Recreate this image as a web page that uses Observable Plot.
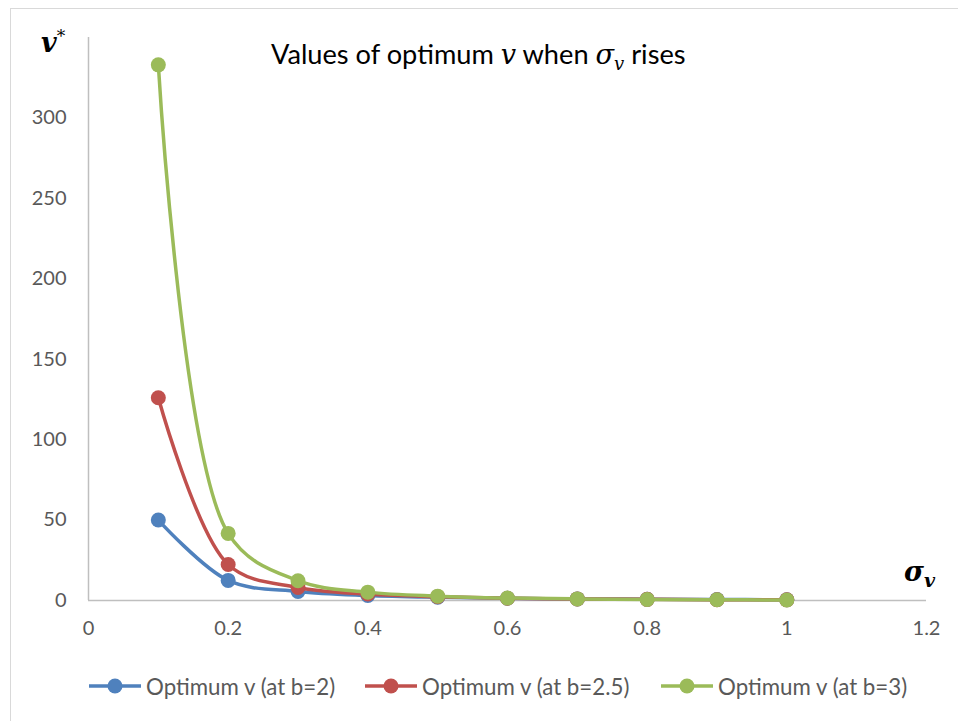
<!DOCTYPE html>
<html>
<head>
<meta charset="utf-8">
<script src="https://cdn.jsdelivr.net/npm/d3@7"></script>
<script src="https://cdn.jsdelivr.net/npm/@observablehq/plot@0.6"></script>
<style>
  html, body { margin: 0; padding: 0; background: #fff; }
  #wrap { position: relative; width: 958px; height: 721px; overflow: hidden; background: #fff; font-family: Lato, "Open Sans", sans-serif; }
  #frame { position: absolute; left: 10px; top: 8px; width: 1000px; height: 800px; border: 1.5px solid #d9d9d9; box-sizing: border-box; }
  #chart { position: absolute; left: 0; top: 0; }
  .ov { position: absolute; white-space: nowrap; }
  #title { left: 271px; top: 37px; font-size: 27.2px; color: #000; }
  .m { font-family: "DejaVu Serif", serif; font-style: italic; }
  #ylab { left: 41px; top: 26px; font-size: 27px; font-family: "DejaVu Serif", serif; font-weight: bold; font-style: italic; }
  #xlab { left: 904px; top: 556px; font-size: 27px; font-family: "DejaVu Serif", serif; font-weight: bold; font-style: italic; }
  #legend .item { position: absolute; top: 672px; height: 28px; display: flex; align-items: center; font-size: 22.3px; color: #595959; }
  #legend svg { margin-right: 4px; }
</style>
</head>
<body>
<div id="wrap">
  <div id="frame"></div>
  <div id="chart"></div>
  <div id="title" class="ov">Values of optimum <span class="m">v</span> when <span class="m">σ<sub style="font-size:18px">v</sub></span> rises</div>
  <div id="ylab" class="ov">v<sup style="font-size:17px;font-weight:normal">*</sup></div>
  <div id="xlab" class="ov">σ<sub style="font-size:19px">v</sub></div>
  <div id="legend"></div>
</div>
<script>
const sigma = [0.1, 0.2, 0.3, 0.4, 0.5, 0.6, 0.7, 0.8, 0.9, 1.0];
const optB2 = [50, 12.5, 5.6, 3.1, 2.0, 1.4, 1.0, 0.8, 0.6, 0.5];
const optB25 = [126, 22.4, 8.1, 4.0, 2.3, 1.4, 1.0, 0.7, 0.5, 0.4];
const optB3 = [333, 41.7, 12.3, 5.2, 2.7, 1.5, 1.0, 0.65, 0.46, 0.33];
const seriesNames = ["Optimum v (at b=2)", "Optimum v (at b=2.5)", "Optimum v (at b=3)"];
const seriesColors = ["#4F81BD", "#C0504D", "#9BBB59"];
const xTicks = [0, 0.2, 0.4, 0.6, 0.8, 1, 1.2];
const yTicks = [0, 50, 100, 150, 200, 250, 300];

const seriesValues = [optB2, optB25, optB3];
const marks = [
  Plot.ruleY([0], {stroke: "#bfbfbf", strokeWidth: 1.5}),
  Plot.ruleX([0], {y1: 0, y2: 350, stroke: "#bfbfbf", strokeWidth: 1.5})
];
seriesValues.forEach((vals, i) => {
  const data = sigma.map((s, j) => ({x: s, y: vals[j]}));
  marks.push(Plot.line(data, {x: "x", y: "y", stroke: seriesColors[i], strokeWidth: 3.5, curve: "catmull-rom"}));
  marks.push(Plot.dot(data, {x: "x", y: "y", fill: seriesColors[i], r: 7.5}));
});

const chart = Plot.plot({
  width: 958,
  height: 650,
  marginLeft: 88,
  marginRight: 32,
  marginTop: 37,
  marginBottom: 50,
  style: {fontFamily: "Lato, 'Open Sans', sans-serif", fontSize: "20px", color: "#595959", background: "transparent"},
  x: {domain: [0, 1.2], ticks: xTicks, tickSize: 0, tickPadding: 20, label: null, tickFormat: d => String(+d.toFixed(1))},
  y: {domain: [0, 350], ticks: yTicks, tickSize: 0, tickPadding: 22, label: null},
  marks
});
document.getElementById("chart").appendChild(chart);

const legend = document.getElementById("legend");
const lefts = [88, 364, 660];
seriesNames.forEach((name, i) => {
  const item = document.createElement("div");
  item.className = "item";
  item.style.left = lefts[i] + "px";
  item.innerHTML = `<svg width="54" height="20"><line x1="1" y1="10" x2="53" y2="10" stroke="${seriesColors[i]}" stroke-width="3.5"/><circle cx="27" cy="10" r="7.5" fill="${seriesColors[i]}"/></svg><span>${name}</span>`;
  legend.appendChild(item);
});
</script>
</body>
</html>
